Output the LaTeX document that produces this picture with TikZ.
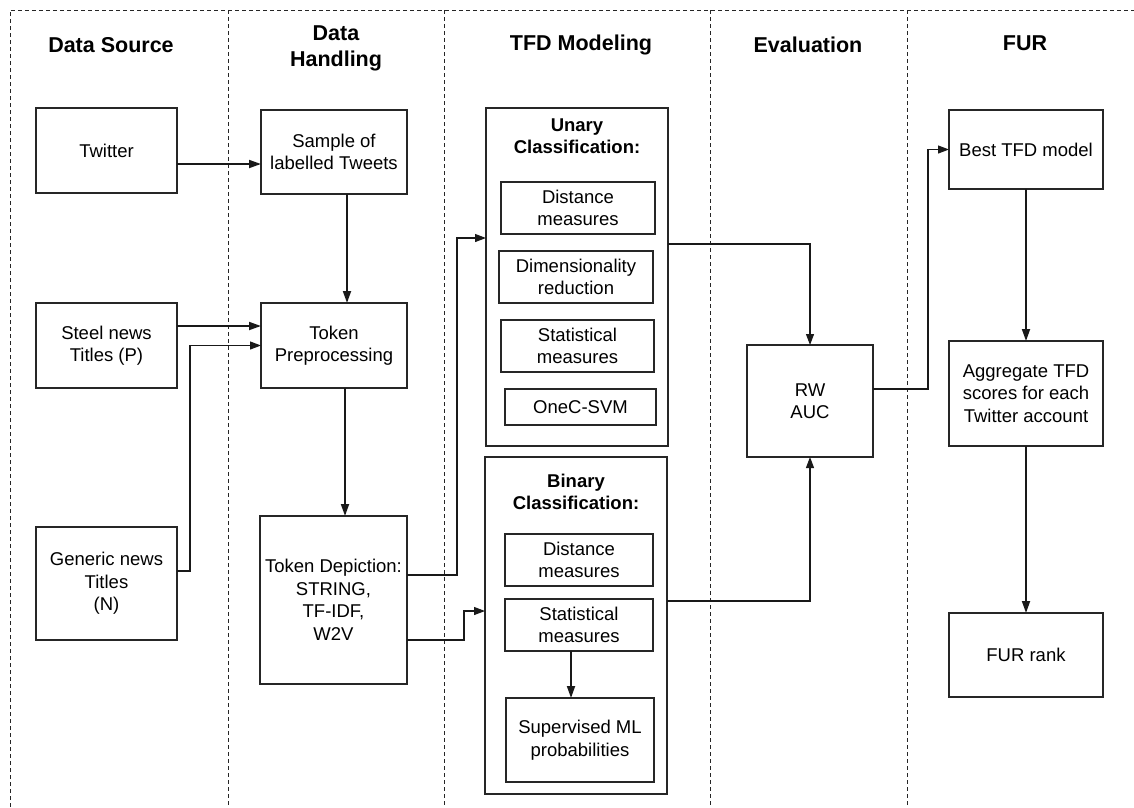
\documentclass[tikz,border=0pt]{standalone}
\usepackage{fontspec}
\setmainfont{Liberation Sans}
\usetikzlibrary{arrows.meta,calc}
\tikzset{
 box/.style={draw=black!85, line width=1.5pt, inner sep=0pt, outer sep=0pt, align=center, font=\fontsize{18.5}{22.5}\selectfont},
 hdr/.style={font=\fontsize{21.5}{26}\selectfont\bfseries, align=center},
 ttl/.style={font=\fontsize{18.5}{22.5}\selectfont\bfseries, align=center},
 arr/.style={-{Triangle[length=12pt,width=8pt]}, line width=1.8pt, draw=black!90},
 tarr/.style={-{Triangle[length=11pt,width=8pt]}, line width=1.1pt, draw=black!90},
 lane/.style={dash pattern=on 4pt off 3pt, line width=0.9pt, draw=black!85},
}
\begin{document}
\begin{tikzpicture}[x=1pt,y=-1pt]
\useasboundingbox (0,0) rectangle (1134,807);
% lanes
\draw[lane] (10,807) -- (10,10) -- (1134,10);
\foreach \xx in {228,444,710,907} \draw[lane] (\xx,10) -- (\xx,807);
% headers
\node[hdr] (h1) at (111,45) {Data Source};
\node[hdr] (h2) at (336,48) {Data\\Handling};
\node[hdr] (h3) at (581,45) {TFD Modeling};
\node[hdr] (h4) at (808,45) {Evaluation};
\node[hdr] (h5) at (1025,43) {FUR};
% data source
\node[box, minimum width=141pt, minimum height=85pt] (twitter) at (106.5,150.5) {Twitter};
\node[box, minimum width=141pt, minimum height=85pt] (steel) at (106.5,345.5) {Steel news\\Titles (P)};
\node[box, minimum width=141pt, minimum height=113pt] (generic) at (106.5,583.5) {Generic news\\Titles\\(N)};
% data handling
\node[box, minimum width=146pt, minimum height=84pt] (sample) at (334,152) {Sample of\\labelled Tweets};
\node[box, minimum width=146pt, minimum height=85pt] (tokpre) at (334,345.5) {Token\\Preprocessing};
\node[box, minimum width=147pt, minimum height=168pt] (tokdep) at (333.5,600) {Token Depiction:\\STRING,\\TF-IDF,\\W2V};
% TFD modeling
\node[box, minimum width=182pt, minimum height=338pt] (unary) at (577,277) {};
\node[ttl] (utitle) at (577,136) {Unary\\Classification:};
\node[box, minimum width=154pt, minimum height=52pt] (udist) at (578,208) {Distance\\measures};
\node[box, minimum width=154pt, minimum height=52pt] (udim) at (576,277) {Dimensionality\\reduction};
\node[box, minimum width=153pt, minimum height=52pt] (ustat) at (577.5,346) {Statistical\\measures};
\node[box, minimum width=151pt, minimum height=36pt] (usvm) at (580.5,407) {OneC-SVM};
\node[box, minimum width=182pt, minimum height=337pt] (binary) at (576,625.5) {};
\node[ttl] (btitle) at (576,492) {Binary\\Classification:};
\node[box, minimum width=148pt, minimum height=52pt] (bdist) at (579,560) {Distance\\measures};
\node[box, minimum width=148pt, minimum height=52pt] (bstat) at (579,625) {Statistical\\measures};
\node[box, minimum width=148pt, minimum height=84pt] (bsup) at (580,740) {Supervised ML\\probabilities};
% evaluation
\node[box, minimum width=126pt, minimum height=112pt] (rw) at (810,401) {RW\\AUC};
% FUR
\node[box, minimum width=154pt, minimum height=79pt] (best) at (1026,149.5) {Best TFD model};
\node[box, minimum width=154pt, minimum height=105pt] (agg) at (1026,393.5) {Aggregate TFD\\scores for each\\Twitter account};
\node[box, minimum width=154pt, minimum height=84pt] (furrank) at (1026,655) {FUR rank};
% connectors
\draw[arr] ([yshift=-13.5pt]twitter.east) -- ([yshift=-13.5pt]twitter.east -| sample.west);
\draw[arr] ([xshift=13pt]sample.south) -- ([xshift=13pt]sample.south |- tokpre.north);
\draw[arr] ([yshift=19.5pt]steel.east) -- ([yshift=19.5pt]steel.east -| tokpre.west);
\draw[tarr] ([yshift=12.5pt]generic.east) -- ++(13pt,0) |- (tokpre.west);
\draw[arr] ([xshift=11pt]tokpre.south) -- ([xshift=11pt]tokpre.south |- tokdep.north);
\draw[tarr] ([yshift=25pt]tokdep.east) -- ++(50pt,0) |- ([yshift=39pt]unary.west);
\draw[tarr] ([yshift=-40pt]tokdep.east) -- ++(57pt,0) |- ([yshift=14.5pt]binary.west);
\draw[tarr] ([yshift=33pt]unary.east) -| (rw.north);
\draw[tarr] ([yshift=24.5pt]binary.east) -| (rw.south);
\draw[tarr] ([yshift=12pt]rw.east) -- ++(55pt,0) |- (best.west);
\draw[arr] ([xshift=-8pt]bstat.south) -- ([xshift=-8pt]bstat.south |- bsup.north);
\draw[arr] (best.south) -- (agg.north);
\draw[arr] (agg.south) -- (furrank.north);
\end{tikzpicture}
\end{document}
